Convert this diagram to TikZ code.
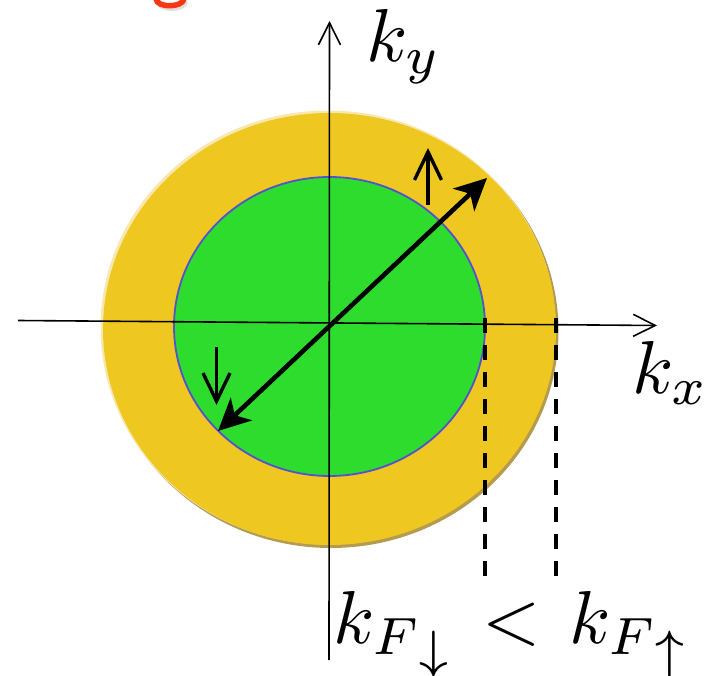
\documentclass[tikz,border=0pt]{standalone}
\usetikzlibrary{arrows.meta}
\definecolor{ringyellow}{RGB}{239,199,33}
\definecolor{ringlight}{RGB}{248,232,175}
\definecolor{ringshadow}{RGB}{180,155,80}
\definecolor{fermigreen}{RGB}{46,220,46}
\definecolor{edgeblue}{RGB}{85,80,205}
\definecolor{titlered}{RGB}{250,55,20}
\newcommand{\lowarrow}[1]{\lower1.7pt\hbox{$\scriptstyle#1$}}
\tikzset{
  axisline/.style={line width=1.6pt, black, -{Straight Barb[length=22pt,width=22pt,line width=1.6pt]}},
  spinarrow/.style={line width=3.4pt, black, -{Straight Barb[length=28pt,width=27pt,line width=3.4pt]}},
  kvec/.style={line width=4.6pt, black, {Stealth[length=32pt,width=31pt,inset=9pt]}-{Stealth[length=32pt,width=31pt,inset=9pt]}},
  fermiedge/.style={line width=4pt, black, dash pattern=on 15pt off 12pt},
  biglabel/.style={scale=7.5, inner sep=0pt, anchor=base west}
}
\begin{document}
\begin{tikzpicture}[x=1pt,y=-1pt]
\useasboundingbox (0,0) rectangle (715,676);
% cut-off red title fragment
\draw[gray!25, line width=5pt] (158,1) .. controls (159,11) and (184,11) .. (186,1);
\draw[titlered, line width=5.5pt] (156,-1) .. controls (157,8) and (182,8) .. (184,-1);
% outer (spin-up) Fermi disc
\fill[ringshadow] (331,331) ellipse [x radius=227.5pt, y radius=217pt];
\fill[ringlight] (328,327.5) ellipse [x radius=227.5pt, y radius=217pt];
\fill[ringyellow] (329.5,329) ellipse [x radius=226.5pt, y radius=216pt];
% inner (spin-down) Fermi disc
\filldraw[fill=fermigreen, draw=edgeblue, line width=1.8pt] (329.5,326.5) ellipse [x radius=155.5pt, y radius=149.5pt];
% coordinates
\coordinate (xl) at (18,320.5);
\coordinate (xr) at (657,325.5);
\coordinate (yb) at (329,660);
\coordinate (yt) at (329.5,21);
\coordinate (vlo) at (218,431);
\coordinate (vhi) at (487,178);
\coordinate (upb) at (428,205);
\coordinate (upt) at (428,148);
\coordinate (dnb) at (216.5,347);
\coordinate (dnt) at (216.5,405);
\coordinate (fd1) at (485,318);
\coordinate (fd2) at (485,578);
\coordinate (fu1) at (556,318);
\coordinate (fu2) at (556,578);
% axes
\draw[axisline] (xl) -- (xr);
\draw[axisline] (yb) -- (yt);
% Fermi momenta dashed markers
\draw[fermiedge] (fd1) -- (fd2);
\draw[fermiedge] (fu1) -- (fu2);
% momentum vector
\draw[kvec] (vlo) -- (vhi);
% spin arrows
\draw[spinarrow] (upb) -- (upt);
\draw[spinarrow] (dnb) -- (dnt);
% labels
\node[biglabel] (ky) at (365,62) {$k_y$};
\node[biglabel] (kx) at (631,393) {$k_x$};
\node[biglabel] (kf) at (332,643) {$k_{F\lowarrow{\downarrow}} \mathrel{\mkern2mu<\mkern2mu} k_{F\lowarrow{\uparrow}}$};
\end{tikzpicture}
\end{document}
